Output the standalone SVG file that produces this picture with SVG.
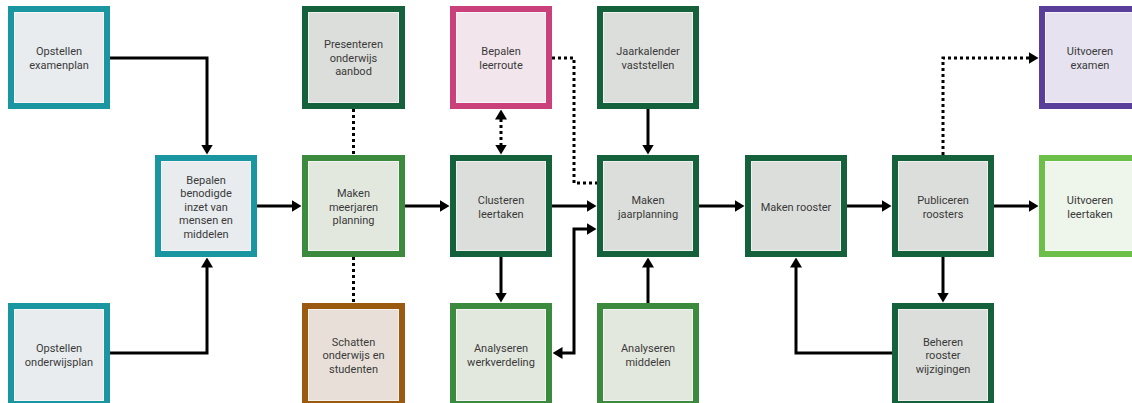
<svg xmlns="http://www.w3.org/2000/svg" width="1132" height="403" viewBox="0 0 1132 403">
<style>
.box{stroke-width:6}
.inner{fill:none;stroke:#ffffff;stroke-opacity:0.55;stroke-width:1}
.teal{stroke:#1a96a0;fill:#e8ecee}
.dg{stroke:#14613c;fill:#dcdedb}
.mg{stroke:#3b8a3e;fill:#e3e8df}
.pink{stroke:#c9407a;fill:#f2e6ec}
.purple{stroke:#5a3f9a;fill:#e6e2f0}
.lg{stroke:#6cbf48;fill:#eef5ea}
.brown{stroke:#9a5a10;fill:#e8e0d8}
text{font-family:Roboto,"Liberation Sans",sans-serif;font-size:11px;fill:#3a3a3a;text-anchor:middle}
.c{fill:none;stroke:#000;stroke-width:3}
.dot{stroke-dasharray:3 3}
.a{marker-end:url(#arr)}
.s{marker-start:url(#arr)}
</style>
<defs>
<marker id="arr" viewBox="0 0 10 12" markerWidth="10" markerHeight="12" refX="0.5" refY="6" orient="auto-start-reverse" markerUnits="userSpaceOnUse">
<path d="M0,0 L10,6 L0,12 z" fill="#000"/>
</marker>
</defs>
<rect width="1132" height="403" fill="#fff"/>
<g id="connectors">
<path class="c a" d="M110,58 H207 V145"/>
<path class="c a" d="M110,353 H207 V267"/>
<path class="c a" d="M257,206 H292"/>
<path class="c dot" d="M353.5,109 V155"/>
<path class="c dot" d="M353.5,257 V303"/>
<path class="c a" d="M405,206 H440"/>
<path class="c dot a s" d="M501,119 V145"/>
<path class="c dot" d="M552,58 H574 V183 H597"/>
<path class="c a" d="M648,109 V145"/>
<path class="c a" d="M552,206 H587"/>
<path class="c a" d="M501,257 V293"/>
<path class="c a s" d="M587,229 H574 V353 H562"/>
<path class="c a" d="M648,303 V267"/>
<path class="c a" d="M699,206 H735"/>
<path class="c a" d="M847,206 H882"/>
<path class="c dot a" d="M943,155 V58 H1029"/>
<path class="c a" d="M994,206 H1029"/>
<path class="c a" d="M943,257 V293"/>
<path class="c a" d="M892,353 H796 V267"/>
</g>
<g id="n-examenplan"><rect class="box teal" x="11" y="9" width="96" height="97"/><rect class="inner" x="14.5" y="12.5" width="89" height="90"/><text x="59" y="55"><tspan x="59">Opstellen</tspan><tspan x="59" dy="13.5">examenplan</tspan></text></g>
<g id="n-presenteren"><rect class="box dg" x="305" y="9" width="97" height="97"/><rect class="inner" x="308.5" y="12.5" width="90" height="90"/><text x="353.5" y="48"><tspan x="353.5">Presenteren</tspan><tspan x="353.5" dy="13.5">onderwijs</tspan><tspan x="353.5" dy="13.5">aanbod</tspan></text></g>
<g id="n-leerroute"><rect class="box pink" x="453" y="9" width="96" height="97"/><rect class="inner" x="456.5" y="12.5" width="89" height="90"/><text x="501" y="55"><tspan x="501">Bepalen</tspan><tspan x="501" dy="13.5">leerroute</tspan></text></g>
<g id="n-jaarkalender"><rect class="box dg" x="600" y="9" width="96" height="97"/><rect class="inner" x="603.5" y="12.5" width="89" height="90"/><text x="648" y="55"><tspan x="648">Jaarkalender</tspan><tspan x="648" dy="13.5">vaststellen</tspan></text></g>
<g id="n-uitvoeren-examen"><rect class="box purple" x="1042" y="9" width="96" height="97"/><rect class="inner" x="1045.5" y="12.5" width="89" height="90"/><text x="1090" y="55"><tspan x="1090">Uitvoeren</tspan><tspan x="1090" dy="13.5">examen</tspan></text></g>
<g id="n-benodigde"><rect class="box teal" x="158" y="158" width="96" height="96"/><rect class="inner" x="161.5" y="161.5" width="89" height="89"/><text x="206" y="183.5"><tspan x="206">Bepalen</tspan><tspan x="206" dy="13.5">benodigde</tspan><tspan x="206" dy="13.5">inzet van</tspan><tspan x="206" dy="13.5">mensen en</tspan><tspan x="206" dy="13.5">middelen</tspan></text></g>
<g id="n-meerjaren"><rect class="box mg" x="305" y="158" width="97" height="96"/><rect class="inner" x="308.5" y="161.5" width="90" height="89"/><text x="353.5" y="197"><tspan x="353.5">Maken</tspan><tspan x="353.5" dy="13.5">meerjaren</tspan><tspan x="353.5" dy="13.5">planning</tspan></text></g>
<g id="n-clusteren"><rect class="box dg" x="453" y="158" width="96" height="96"/><rect class="inner" x="456.5" y="161.5" width="89" height="89"/><text x="501" y="204"><tspan x="501">Clusteren</tspan><tspan x="501" dy="13.5">leertaken</tspan></text></g>
<g id="n-jaarplanning"><rect class="box dg" x="600" y="158" width="96" height="96"/><rect class="inner" x="603.5" y="161.5" width="89" height="89"/><text x="648" y="204"><tspan x="648">Maken</tspan><tspan x="648" dy="13.5">jaarplanning</tspan></text></g>
<g id="n-rooster"><rect class="box dg" x="748" y="158" width="96" height="96"/><rect class="inner" x="751.5" y="161.5" width="89" height="89"/><text x="796" y="211">Maken rooster</text></g>
<g id="n-publiceren"><rect class="box dg" x="895" y="158" width="96" height="96"/><rect class="inner" x="898.5" y="161.5" width="89" height="89"/><text x="943" y="204"><tspan x="943">Publiceren</tspan><tspan x="943" dy="13.5">roosters</tspan></text></g>
<g id="n-uitvoeren-leertaken"><rect class="box lg" x="1042" y="158" width="96" height="96"/><rect class="inner" x="1045.5" y="161.5" width="89" height="89"/><text x="1090" y="204"><tspan x="1090">Uitvoeren</tspan><tspan x="1090" dy="13.5">leertaken</tspan></text></g>
<g id="n-onderwijsplan"><rect class="box teal" x="11" y="306" width="96" height="98"/><rect class="inner" x="14.5" y="309.5" width="89" height="91"/><text x="59" y="352"><tspan x="59">Opstellen</tspan><tspan x="59" dy="13.5">onderwijsplan</tspan></text></g>
<g id="n-schatten"><rect class="box brown" x="305" y="306" width="97" height="98"/><rect class="inner" x="308.5" y="309.5" width="90" height="91"/><text x="353.5" y="345.5"><tspan x="353.5">Schatten</tspan><tspan x="353.5" dy="13.5">onderwijs en</tspan><tspan x="353.5" dy="13.5">studenten</tspan></text></g>
<g id="n-werkverdeling"><rect class="box mg" x="453" y="306" width="96" height="98"/><rect class="inner" x="456.5" y="309.5" width="89" height="91"/><text x="501" y="352"><tspan x="501">Analyseren</tspan><tspan x="501" dy="13.5">werkverdeling</tspan></text></g>
<g id="n-middelen"><rect class="box mg" x="600" y="306" width="96" height="98"/><rect class="inner" x="603.5" y="309.5" width="89" height="91"/><text x="648" y="352"><tspan x="648">Analyseren</tspan><tspan x="648" dy="13.5">middelen</tspan></text></g>
<g id="n-beheren"><rect class="box dg" x="895" y="306" width="96" height="98"/><rect class="inner" x="898.5" y="309.5" width="89" height="91"/><text x="943" y="345.5"><tspan x="943">Beheren</tspan><tspan x="943" dy="13.5">rooster</tspan><tspan x="943" dy="13.5">wijzigingen</tspan></text></g>
</svg>
